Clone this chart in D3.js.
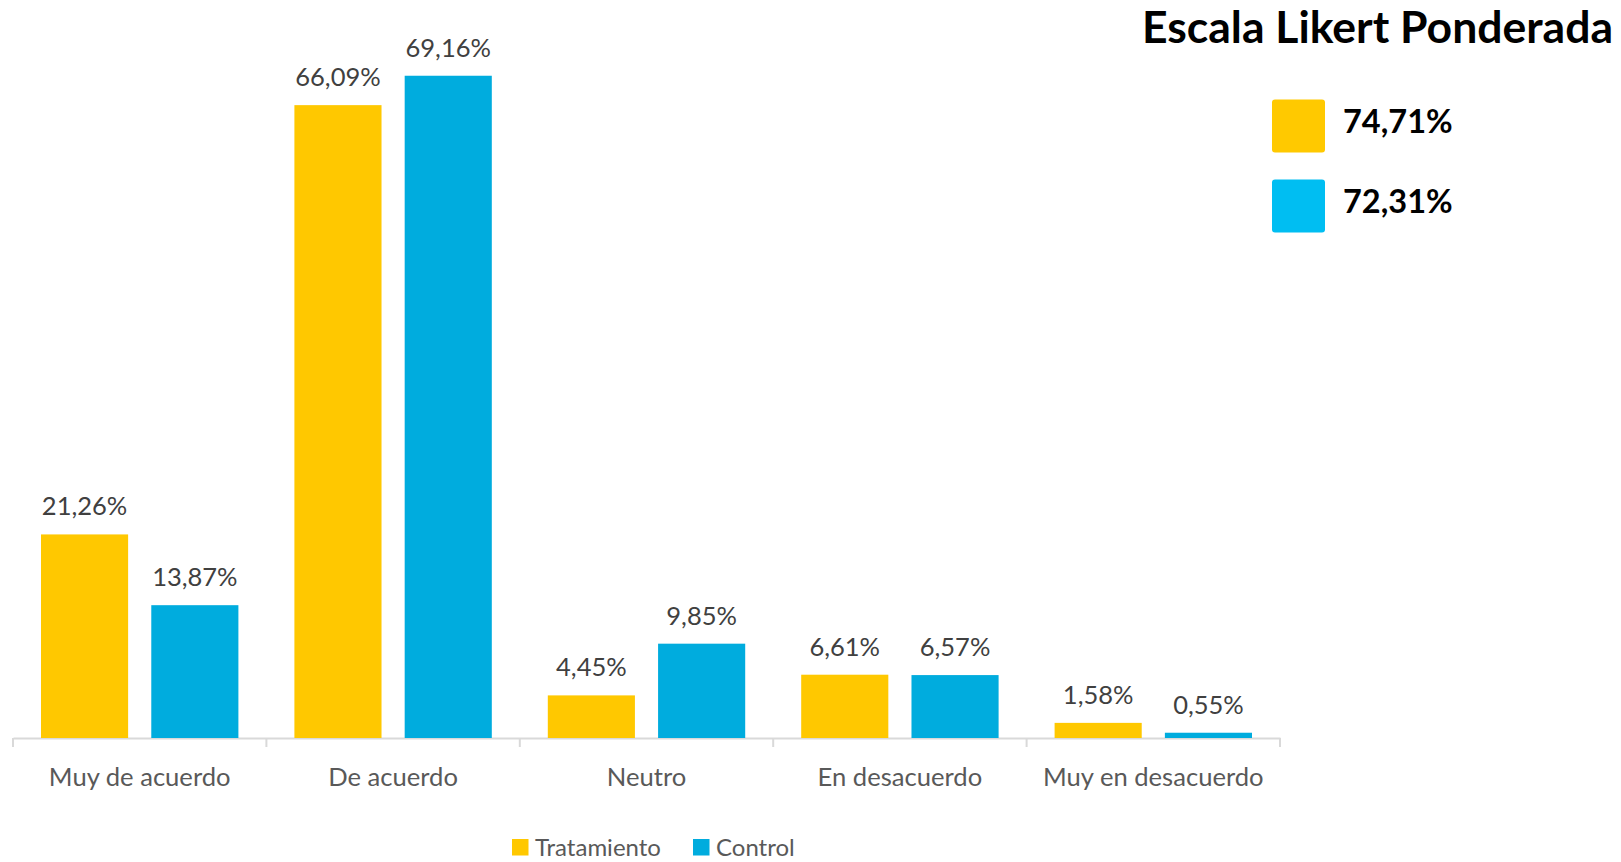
<!DOCTYPE html>
<html>
<head>
<meta charset="utf-8">
<script src="https://cdn.jsdelivr.net/npm/d3@7"></script>
<style>
  html, body { margin: 0; padding: 0; background: #fff; }
  svg { display: block; font-family: Lato, "Open Sans", sans-serif; }
</style>
</head>
<body>
<script>
// categorias y series
var categories = ["Muy de acuerdo", "De acuerdo", "Neutro", "En desacuerdo", "Muy en desacuerdo"];
var seriesNames = ["Tratamiento", "Control"];
var tratamiento = [21.26, 66.09, 4.45, 6.61, 1.58];
var control = [13.87, 69.16, 9.85, 6.57, 0.55];
var ponderada = [74.71, 72.31];
var title = "Escala Likert Ponderada";

var width = 1621, height = 862;

var color = d3.scaleOrdinal().domain(seriesNames).range(["#FFC800", "#00ACDE"]);
var colorBox = d3.scaleOrdinal().domain(seriesNames).range(["#FFC900", "#00BEF2"]);

var data = categories.map(function (c, i) {
    return { cat: c, values: [
        { name: "Tratamiento", v: tratamiento[i] },
        { name: "Control", v: control[i] }
    ] };
});

var svg = d3.select("body").append("svg")
    .attr("width", width)
    .attr("height", height);

// schalen
var x0 = d3.scaleBand().domain(categories).range([13, 1280]).padding(0);
var x1 = d3.scaleBand().domain(seriesNames)
    .range([28, x0.bandwidth() - 28]).paddingInner(0.21);
var y = d3.scaleLinear().domain([0, 70]).range([738, 67.7]);

// x-as
var xAxis = svg.append("g")
    .attr("transform", "translate(0,738)")
    .call(d3.axisBottom(x0).tickSize(0).tickFormat(""));
xAxis.select(".domain").attr("stroke", "#d9d9d9").attr("stroke-width", 2);
// tick streepjes tussen de categorieen
var tickPos = categories.map(function (c) { return x0(c); }).concat([x0.range()[1]]);
svg.selectAll(".sep").data(tickPos).enter().append("line")
    .attr("x1", function (d) { return d; })
    .attr("x2", function (d) { return d; })
    .attr("y1", 738).attr("y2", 747)
    .attr("stroke", "#d9d9d9").attr("stroke-width", 2);

svg.selectAll(".catlabel").data(categories).enter().append("text")
    .attr("x", function (d) { return x0(d) + x0.bandwidth() / 2; })
    .attr("y", 786)
    .attr("text-anchor", "middle")
    .attr("fill", "#595959")
    .style("font-size", "25.6px")
    .text(function (d) { return d; });

// balken
var g = svg.selectAll(".cat").data(data).enter().append("g")
    .attr("transform", function (d) { return "translate(" + x0(d.cat) + ",0)"; });

g.selectAll("rect").data(function (d) { return d.values; }).enter().append("rect")
    .attr("x", function (d) { return x1(d.name); })
    .attr("width", x1.bandwidth())
    .attr("y", function (d) { return y(d.v); })
    .attr("height", function (d) { return y(0) - y(d.v); })
    .attr("fill", function (d) { return color(d.name); });

g.selectAll(".val").data(function (d) { return d.values; }).enter().append("text")
    .attr("x", function (d) { return x1(d.name) + x1.bandwidth() / 2; })
    .attr("y", function (d) { return y(d.v) - 19; })
    .attr("text-anchor", "middle")
    .attr("fill", "#404040")
    .style("font-size", "25.5px")
    .text(function (d) { return d.v.toFixed(2).replace(".", ",") + "%"; });

// titel
svg.append("text")
    .attr("x", 1613).attr("y", 43)
    .attr("text-anchor", "end")
    .style("font-size", "44.5px").style("font-weight", "bold")
    .attr("fill", "#000")
    .text(title);

// gewogen schaal
var pg = svg.selectAll(".pond").data(seriesNames).enter().append("g")
    .attr("transform", function (d, i) { return "translate(1272," + (99.5 + i * 80) + ")"; });
pg.append("rect")
    .attr("width", 53).attr("height", 53).attr("rx", 3)
    .attr("fill", function (d) { return colorBox(d); });
pg.append("text")
    .attr("x", 71).attr("y", 33)
    .style("font-size", "32.5px").style("font-weight", "bold")
    .attr("fill", "#000")
    .text(function (d, i) { return ponderada[i].toFixed(2).replace(".", ",") + "%"; });

// legenda onderaan
var legX = [512, 693];
var lg = svg.selectAll(".leg").data(seriesNames).enter().append("g")
    .attr("transform", function (d, i) { return "translate(" + legX[i] + ",839)"; });
lg.append("rect").attr("width", 16.5).attr("height", 16.5)
    .attr("fill", function (d) { return color(d); });
lg.append("text")
    .attr("x", 23).attr("y", 17)
    .attr("fill", "#595959")
    .style("font-size", "24px")
    .text(function (d) { return d; });
</script>
</body>
</html>
